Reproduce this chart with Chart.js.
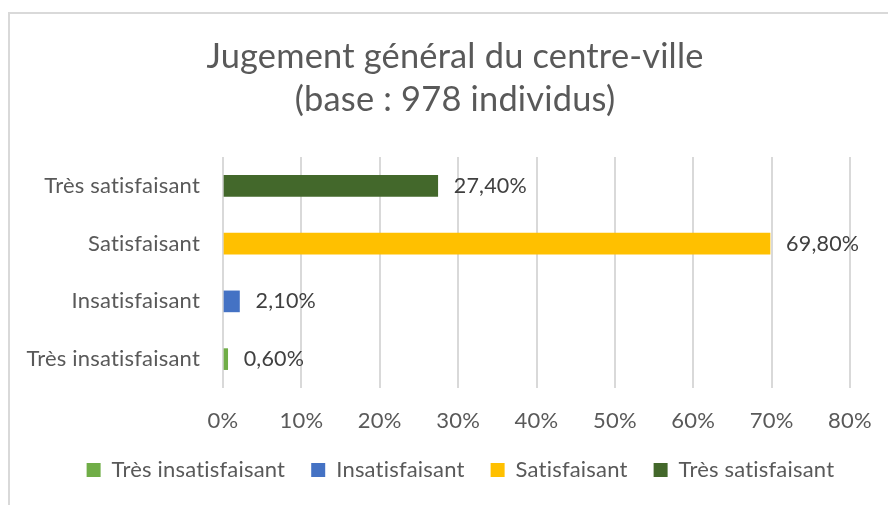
<!DOCTYPE html>
<html>
<head>
<meta charset="utf-8">
<script src="https://cdn.jsdelivr.net/npm/chart.js@4"></script>
<style>
    html, body { margin: 0; padding: 0; overflow: hidden; background: #fff; }
    #frame {
        position: absolute; left: 8px; top: 12px;
        width: 920px; height: 520px;
        border: 2px solid #d9d9d9;
    }
    #wrap { position: absolute; left: 0; top: 0; width: 888px; height: 505px; }
</style>
</head>
<body>
<div id="frame"></div>
<div id="wrap"><canvas id="chart"></canvas></div>
<script>
// categories top to bottom, as shown on the chart
const categories = ['Très satisfaisant', 'Satisfaisant', 'Insatisfaisant', 'Très insatisfaisant'];
const values = [27.4, 69.8, 2.1, 0.6];
const colours = ['#43682b', '#ffc000', '#4472c4', '#70ad47'];
// legend / series order (Excel lists them bottom-up)
const seriesOrder = ['Très insatisfaisant', 'Insatisfaisant', 'Satisfaisant', 'Très satisfaisant'];
const xTicks = [0, 10, 20, 30, 40, 50, 60, 70, 80];

const FONT = 'Lato';
const SIZE = 22;

const datasets = seriesOrder.map(name => {
    const idx = categories.indexOf(name);
    return {
        label: name,
        data: categories.map((c, i) => i === idx ? values[idx] : null),
        backgroundColor: colours[idx],
        borderWidth: 0,
        barThickness: 21
    };
});

const frLabel = v => v.toFixed(2).replace('.', ',') + '%';

// no ligatures (ti) like Calibri
const spacing = {
    id: 'spacing',
    beforeDraw(chart) { chart.ctx.letterSpacing = '0.2px'; }
};

const valueLabels = {
    id: 'valueLabels',
    afterDatasetsDraw(chart) {
        const ctx = chart.ctx;
        ctx.save();
        ctx.font = `21.5px ${FONT}`;
        ctx.fillStyle = '#404040';
        ctx.textAlign = 'left';
        ctx.textBaseline = 'middle';
        chart.data.datasets.forEach((ds, di) => {
            const meta = chart.getDatasetMeta(di);
            meta.data.forEach((bar, i) => {
                if (ds.data[i] === null) return;
                ctx.fillText(frLabel(ds.data[i]), bar.x + 16, bar.y);
            });
        });
        ctx.restore();
    }
};

new Chart(document.getElementById('chart'), {
    type: 'bar',
    data: { labels: categories, datasets: datasets },
    plugins: [spacing, valueLabels],
    options: {
        indexAxis: 'y',
        responsive: true,
        maintainAspectRatio: false,
        animation: false,
        skipNull: true,
        layout: { padding: { left: 0, right: -22, top: 0, bottom: 14 } },
        scales: {
            x: {
                min: 0, max: 80,
                afterBuildTicks: s => { s.ticks = xTicks.map(v => ({ value: v })); },
                afterFit: s => { s.height = 45; s.paddingRight = 0; },
                grid: { color: '#d9d9d9', lineWidth: 2, drawTicks: false },
                border: { display: false },
                ticks: {
                    padding: 22,
                    color: '#595959',
                    font: { family: FONT, size: SIZE, lineHeight: 1 },
                    callback: v => v + '%'
                }
            },
            y: {
                afterFit: s => { s.width = 223; },
                grid: { display: false, drawTicks: false },
                border: { display: false },
                ticks: {
                    padding: 23,
                    color: '#595959',
                    font: { family: FONT, size: SIZE }
                }
            },
            // empty right-hand axis, only keeps the plot edge at 80%
            y2: {
                type: 'category',
                position: 'right',
                afterFit: s => { s.width = 60; },
                grid: { display: false, drawTicks: false },
                border: { display: false },
                ticks: { display: false }
            }
        },
        plugins: {
            title: {
                display: true,
                text: ['Jugement général du centre-ville', '(base : 978 individus)'],
                color: '#595959',
                font: { family: FONT, size: 34.4, weight: '400', lineHeight: '43px' },
                padding: { top: 35.5, bottom: 35.5 }
            },
            legend: {
                position: 'bottom',
                labels: {
                    color: '#595959',
                    font: { family: FONT, size: SIZE },
                    boxWidth: 14,
                    boxHeight: 14,
                    padding: 26
                }
            },
            tooltip: { enabled: false }
        }
    }
});
</script>
</body>
</html>
